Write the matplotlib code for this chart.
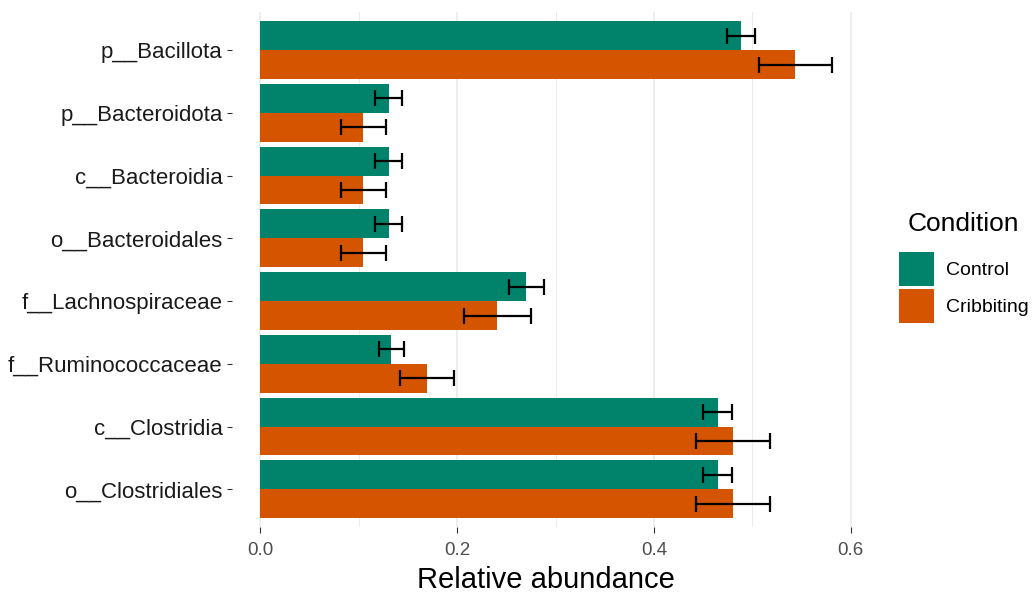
import numpy as np
import matplotlib
matplotlib.use("Agg")
import matplotlib.pyplot as plt
from matplotlib.patches import Patch

plt.rcParams["font.family"] = ["Liberation Sans", "DejaVu Sans"]

# data
taxa = [
    "p__Bacillota",
    "p__Bacteroidota",
    "c__Bacteroidia",
    "o__Bacteroidales",
    "f__Lachnospiraceae",
    "f__Ruminococcaceae",
    "c__Clostridia",
    "o__Clostridiales",
]
control = [0.4885, 0.1304, 0.1304, 0.1304, 0.2704, 0.1333, 0.4646, 0.4646]
control_err = [0.0145, 0.0137, 0.0137, 0.0137, 0.0180, 0.0130, 0.0150, 0.0150]
cribbing = [0.5434, 0.1048, 0.1048, 0.1048, 0.2407, 0.1694, 0.4801, 0.4801]
cribbing_err = [0.0370, 0.0230, 0.0230, 0.0230, 0.0340, 0.0275, 0.0375, 0.0375]
conditions = ["Control", "Cribbiting"]
colors = ["#00836A", "#D55400"]

fig = plt.figure(figsize=(10.33, 5.94), dpi=100)
ax = fig.add_axes([0.2243, 0.1128, 0.6083, 0.8662])

y = np.arange(len(taxa))
h = 0.46

err_kw = dict(ecolor="black", elinewidth=1.6, capsize=6.0, capthick=1.6)
ax.barh(y - h / 2, control, height=h, color=colors[0], xerr=control_err,
        error_kw=err_kw, zorder=2)
ax.barh(y + h / 2, cribbing, height=h, color=colors[1], xerr=cribbing_err,
        error_kw=err_kw, zorder=2)

# ggplot-style limits (5% expansion)
hi = max(max(np.add(control, control_err)), max(np.add(cribbing, cribbing_err)))
pad = 0.05 * hi
ax.set_xlim(-pad, hi + pad)
ax.set_ylim(len(taxa) - 1 + 0.6, -0.6)

ax.set_xticks([0.0, 0.2, 0.4, 0.6])
ax.set_xticklabels(["0.0", "0.2", "0.4", "0.6"])
ax.set_xticks([0.1, 0.3, 0.5], minor=True)
ax.set_yticks(y)
ax.set_yticklabels(taxa)

ax.grid(axis="x", which="major", color="#EBEBEB", linewidth=1.2, zorder=0)
ax.grid(axis="x", which="minor", color="#EBEBEB", linewidth=0.7, zorder=0)
ax.set_axisbelow(True)
for s in ax.spines.values():
    s.set_visible(False)

ax.tick_params(axis="y", length=3.5, width=0.8, color="#333333",
               labelsize=16, labelcolor="#1A1A1A", pad=3)
ax.tick_params(axis="x", which="major", length=4, width=0.8, color="#333333",
               labelsize=13.5, labelcolor="#4D4D4D", pad=6.5)
ax.tick_params(axis="x", which="minor", length=0)

ax.set_xlabel("Relative abundance", fontsize=21, color="black", labelpad=5.5)

handles = [Patch(facecolor=c, edgecolor="none") for c in colors]
leg = fig.legend(handles, conditions, title="Condition", frameon=False,
                 loc="center left", bbox_to_anchor=(0.861, 0.55),
                 fontsize=14, title_fontsize=19,
                 handlelength=1.8, handleheight=2.3,
                 labelspacing=0.15, handletextpad=0.6, borderpad=0)
leg._legend_box.sep = 12

plt.savefig("out.png", dpi=100)
plt.close()
